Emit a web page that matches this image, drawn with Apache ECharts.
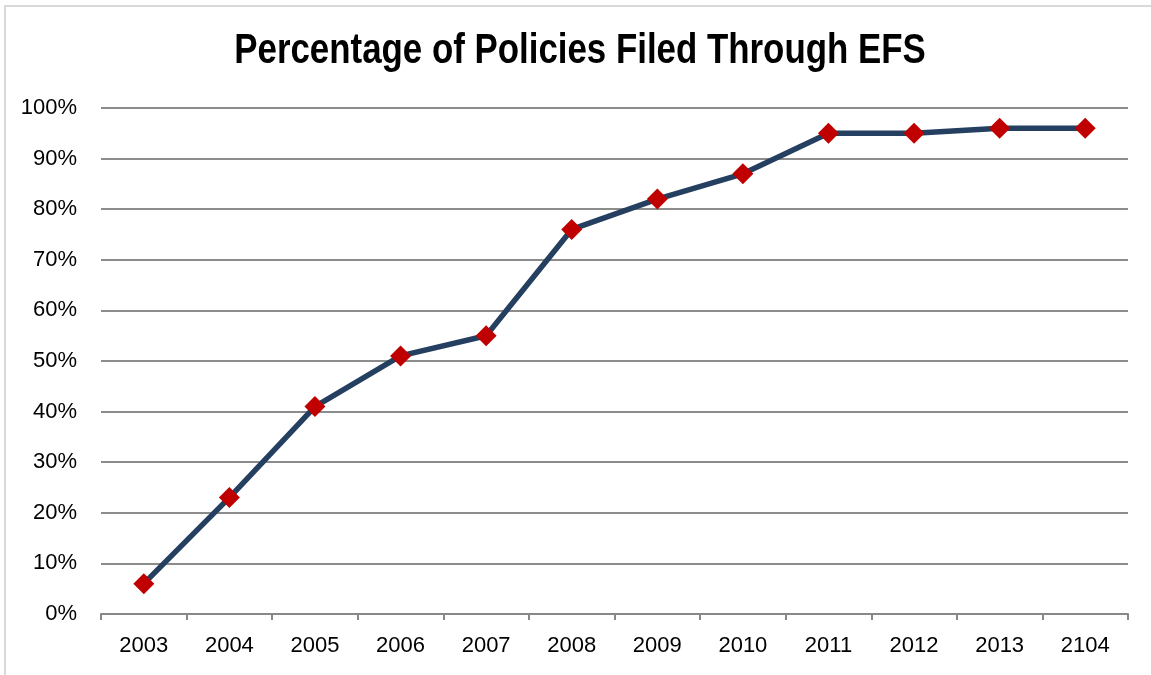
<!DOCTYPE html>
<html>
<head>
<meta charset="utf-8">
<script src="https://cdn.jsdelivr.net/npm/echarts@6/dist/echarts.min.js"></script>
<style>
  html, body { margin: 0; padding: 0; background: #fff; }
  #chart { width: 1151px; height: 675px; }
</style>
</head>
<body>
<div id="chart"></div>
<script>
const years = ['2003', '2004', '2005', '2006', '2007', '2008', '2009', '2010', '2011', '2012', '2013', '2104']
const efsShare = [6, 23, 41, 51, 55, 76, 82, 87, 95, 95, 96, 96]
const yTicks = { min: 0, max: 100, step: 10 }
const titleText = 'Percentage of Policies Filed Through EFS'

const font = '"Liberation Sans Narrow", "Arial Narrow", "Liberation Sans", sans-serif'
const chart = echarts.init(document.getElementById('chart'))

const option = {
  backgroundColor: '#fff',
  graphic: [
    {
      type: 'rect',
      shape: { x: 5, y: 6, width: 1160, height: 690 },
      style: { fill: 'none', stroke: '#d9d9d9', lineWidth: 2 },
      silent: true
    },
    {
      // narrow look of the original title font
      type: 'text',
      x: 580,
      y: 51,
      scaleX: 0.83,
      style: {
        text: titleText,
        font: 'bold 42px "Liberation Sans", sans-serif',
        fill: '#000',
        align: 'center',
        verticalAlign: 'middle'
      }
    }
  ],
  grid: { left: 101, right: 23, top: 108, bottom: 61 },
  xAxis: {
    type: 'category',
    data: years,
    boundaryGap: true,
    axisLine: { lineStyle: { color: '#888', width: 2 } },
    axisTick: { show: true, length: 6, lineStyle: { color: '#888', width: 2 } },
    axisLabel: { fontFamily: font, fontSize: 22, color: '#000', margin: 21 }
  },
  yAxis: {
    type: 'value',
    min: yTicks.min,
    max: yTicks.max,
    interval: yTicks.step,
    axisLine: { show: false },
    axisTick: { show: false },
    splitLine: { lineStyle: { color: '#8c8c8c', width: 2 } },
    axisLabel: {
      fontFamily: font, fontSize: 22, color: '#000', margin: 24,
      formatter: v => v + '%'
    }
  },
  series: [
    {
      type: 'line',
      data: efsShare,
      symbol: 'diamond',
      symbolSize: 21,
      lineStyle: { color: '#243F60', width: 5.5 },
      itemStyle: { color: '#C00000' },
      z: 3
    }
  ]
}

chart.setOption(option)
</script>
</body>
</html>
